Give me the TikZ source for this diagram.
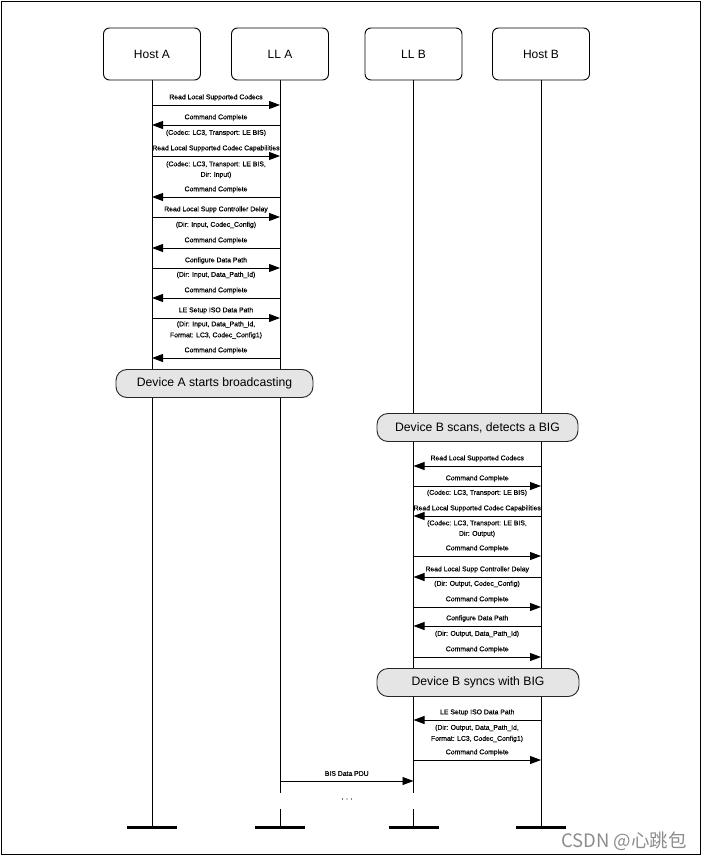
\documentclass[tikz,border=0pt]{standalone}
\usepackage{fontspec}
\setmainfont{Liberation Sans}
\newfontfamily\cjkwm{Noto Sans CJK SC}
\newfontfamily\smallsans[FakeBold=0.6]{Liberation Sans}
\usetikzlibrary{arrows.meta}
\newcommand\seqmsg[5]{% name, from, to, y, label
  \draw[msgarrow] (#2 |- 0,#4) -- (#3 |- 0,#4) node[lbl, midway, yshift=7.5pt] (#1) {#5};}
\begin{document}
\begin{tikzpicture}[x=1pt,y=-1pt,
 entity/.style={draw=black, line width=0.9pt, rounded corners=6pt, minimum width=97pt, minimum height=52pt, font=\fontsize{12}{14}\selectfont, inner sep=0pt},
 life/.style={line width=0.9pt},
 msgarrow/.style={line width=0.9pt, -{Triangle[length=11pt,width=8pt]}},
 lbl/.style={font=\smallsans\fontsize{6.85}{8}\selectfont, inner sep=0pt},
 banner/.style={draw=black!85, fill=black!10, line width=0.9pt, rounded corners=11pt, minimum height=28pt, inner sep=0pt, font=\fontsize{12.2}{14}\selectfont},
 endbar/.style={line width=3pt}]

\useasboundingbox (0,0) rectangle (704,858);
\draw[line width=1.2pt] (1.5,1.5) rectangle (700.5,854.5);

\node[entity] (hA) at (152,54) {Host A};
\node[entity] (lA) at (280,54) {LL A};
\node[entity] (lB) at (413.5,54) {LL B};
\node[entity] (hB) at (541,54) {Host B};

% lifelines
\draw[life] (hA.south) -- (hA |- 0,827);
\draw[life] (lA.south) -- (lA |- 0,793) (lA |- 0,809) -- (lA |- 0,827);
\draw[life] (lB.south) -- (lB |- 0,793) (lB |- 0,809) -- (lB |- 0,827);
\draw[life] (hB.south) -- (hB |- 0,827);

% end bars
\foreach \e in {hA,lA,lB,hB} \draw[endbar] (\e |- 0,827) ++(-25,0) -- ++(50,0);

% Device A side
\seqmsg{a1}{hA}{lA}{105}{Read Local Supported Codecs}
\seqmsg{a2}{lA}{hA}{125}{Command Complete}
\node[lbl] (a2s) at (216,133) {(Codec: LC3, Transport: LE BIS)};
\seqmsg{a3}{hA}{lA}{156}{Read Local Supported Codec Capabilities}
\node[lbl] (a3s) at (216,164.5) {(Codec: LC3, Transport: LE BIS,};
\node[lbl] (a3t) at (216,175) {Dir: Input)};
\seqmsg{a4}{lA}{hA}{197}{Command Complete}
\seqmsg{a5}{hA}{lA}{217}{Read Local Supp Controller Delay}
\node[lbl] (a5s) at (216,225) {(Dir: Input, Codec\_Config)};
\seqmsg{a6}{lA}{hA}{248}{Command Complete}
\seqmsg{a7}{hA}{lA}{268}{Configure Data Path}
\node[lbl] (a7s) at (216,275) {(Dir: Input, Data\_Path\_Id)};
\seqmsg{a8}{lA}{hA}{298}{Command Complete}
\seqmsg{a9}{hA}{lA}{318}{LE Setup ISO Data Path}
\node[lbl] (a9s) at (216,324.5) {(Dir: Input, Data\_Path\_Id,};
\node[lbl] (a9t) at (216,335.5) {Format: LC3, Codec\_Config1)};
\seqmsg{a10}{lA}{hA}{358}{Command Complete}

% Device B side
\seqmsg{b1}{hB}{lB}{466}{Read Local Supported Codecs}
\seqmsg{b2}{lB}{hB}{486}{Command Complete}
\node[lbl] (b2s) at (477,493) {(Codec: LC3, Transport: LE BIS)};
\seqmsg{b3}{hB}{lB}{516}{Read Local Supported Codec Capabilities}
\node[lbl] (b3s) at (477,523.5) {(Codec: LC3, Transport: LE BIS,};
\node[lbl] (b3t) at (477,534) {Dir: Output)};
\seqmsg{b4}{lB}{hB}{556}{Command Complete}
\seqmsg{b5}{hB}{lB}{577}{Read Local Supp Controller Delay}
\node[lbl] (b5s) at (477,584) {(Dir: Output, Codec\_Config)};
\seqmsg{b6}{lB}{hB}{607}{Command Complete}
\seqmsg{b7}{hB}{lB}{626}{Configure Data Path}
\node[lbl] (b7s) at (477,634) {(Dir: Output, Data\_Path\_Id)};
\seqmsg{b8}{lB}{hB}{657}{Command Complete}
\seqmsg{b9}{hB}{lB}{720}{LE Setup ISO Data Path}
\node[lbl] (b9s) at (477,728) {(Dir: Output, Data\_Path\_Id,};
\node[lbl] (b9t) at (477,739) {Format: LC3, Codec\_Config1)};
\seqmsg{b10}{lB}{hB}{760}{Command Complete}

% data
\seqmsg{d1}{lA}{lB}{781}{BIS Data PDU}
\node[lbl] (dots) at (347,799) {. . .};

% banners
\node[banner, minimum width=197pt] (bA) at (214.5,383.5) {Device A starts broadcasting};
\node[banner, minimum width=201pt] (bB1) at (477.5,427.5) {Device B scans, detects a BIG};
\node[banner, minimum width=202pt] (bB2) at (478,682.5) {Device B syncs with BIG};

% watermark
\node[font=\cjkwm\fontsize{18.5}{20}\selectfont, text=black!45, inner sep=0pt] (wm) at (624,841) {CSDN @心跳包};
\end{tikzpicture}
\end{document}
